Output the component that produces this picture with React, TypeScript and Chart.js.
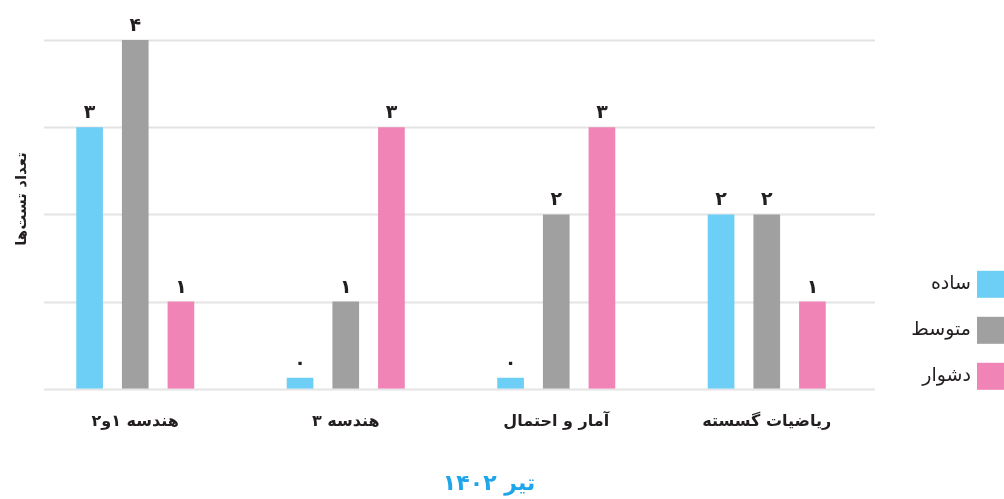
import React, { useEffect, useRef } from "react";
import { Chart, registerables } from "chart.js";

Chart.register(...registerables);

const categories = ["هندسه ۱و۲", "هندسه ۳", "آمار و احتمال", "ریاضیات گسسته"];
const seriesNames = ["ساده", "متوسط", "دشوار"];
const easyValues = [3, 0, 0, 2];
const mediumValues = [4, 1, 2, 2];
const hardValues = [1, 3, 3, 1];
const yTickValues = [0, 1, 2, 3, 4];
const xTitle = "تیر ۱۴۰۲";
const yTitle = "تعداد تست‌ها";
const seriesColors = ["#6dcff6", "#a0a0a0", "#f084b6"];

const FONT = "'DejaVu Sans', sans-serif";
const TEXT = "#231f20";
const toFa = (n: number) => String(n).replace(/\d/g, (d) => "۰۱۲۳۴۵۶۷۸۹"[+d]);

const customPlugin = {
  id: "customDecor",
  beforeDatasetsDraw(chart: any) {
    const { ctx, chartArea, scales } = chart;
    const y = scales.y;
    ctx.save();
    ctx.strokeStyle = "#e4e4e4";
    ctx.lineWidth = 2;
    yTickValues.forEach((v) => {
      const py = Math.round(y.getPixelForValue(v)) + 0.5;
      ctx.beginPath();
      ctx.moveTo(chartArea.left + 14, py);
      ctx.lineTo(chartArea.right + 3, py);
      ctx.stroke();
    });
    ctx.restore();
  },
  afterDatasetsDraw(chart: any) {
    const { ctx } = chart;
    ctx.save();
    ctx.font = `bold 19px ${FONT}`;
    ctx.fillStyle = TEXT;
    ctx.textAlign = "center";
    ctx.textBaseline = "alphabetic";
    chart.data.datasets.forEach((ds: any, i: number) => {
      const meta = chart.getDatasetMeta(i);
      meta.data.forEach((bar: any, j: number) => {
        ctx.fillText(toFa(ds.data[j]), bar.x, bar.y - 9);
      });
    });
    ctx.restore();
  },
  afterDraw(chart: any) {
    const { ctx, chartArea } = chart;
    const n = chart.data.datasets.length;
    ctx.save();
    ctx.font = `19px ${FONT}`;
    ctx.textAlign = "right";
    ctx.textBaseline = "middle";
    chart.data.datasets.forEach((ds: any, i: number) => {
      const size = 27;
      const bx = chart.width - size;
      const by = chartArea.bottom + 1 - size - (n - 1 - i) * 46;
      ctx.fillStyle = ds.backgroundColor;
      ctx.fillRect(bx, by, size, size);
      ctx.fillStyle = TEXT;
      ctx.fillText(ds.label, bx - 6, by + size / 2);
    });
    // x title
    ctx.font = `bold 22px ${FONT}`;
    ctx.fillStyle = "#1fa5ea";
    ctx.textAlign = "center";
    ctx.textBaseline = "middle";
    ctx.fillText(xTitle, 489, 484);
    // y title
    ctx.translate(22, 199);
    ctx.rotate(-Math.PI / 2);
    ctx.font = `bold 15px ${FONT}`;
    ctx.fillStyle = TEXT;
    ctx.fillText(yTitle, 0, 0);
    ctx.restore();
  },
};

export default function App() {
  const ref = useRef<HTMLCanvasElement | null>(null);
  useEffect(() => {
    document.body.style.margin = "0";
    document.body.style.overflow = "hidden";
    const canvas = ref.current;
    if (!canvas) return;
    const chart = new Chart(canvas, {
      type: "bar",
      data: {
        labels: categories,
        datasets: [easyValues, mediumValues, hardValues].map((vals, i) => ({
          label: seriesNames[i],
          data: vals,
          backgroundColor: seriesColors[i],
          borderWidth: 0,
          minBarLength: 11,
          barPercentage: 0.584,
          categoryPercentage: 0.651,
        })),
      },
      options: {
        animation: false,
        responsive: false,
        maintainAspectRatio: false,
        layout: { padding: { left: 30, right: 132, top: 40, bottom: 45 } },
        plugins: {
          legend: { display: false },
          tooltip: { enabled: false },
          title: { display: false },
        },
        scales: {
          x: {
            grid: { display: false, drawTicks: false },
            border: { display: false },
            ticks: {
              padding: 23,
              color: TEXT,
              font: { family: FONT, size: 16, weight: "bold" },
            },
          },
          y: {
            display: false,
            min: 0,
            max: 4,
            ticks: { stepSize: 1 },
          },
        },
      },
      plugins: [customPlugin],
    });
    return () => chart.destroy();
  }, []);
  return (
    <div style={{ width: 1004, height: 499, position: "relative" }}>
      <canvas ref={ref} width={1004} height={499} />
    </div>
  );
}
